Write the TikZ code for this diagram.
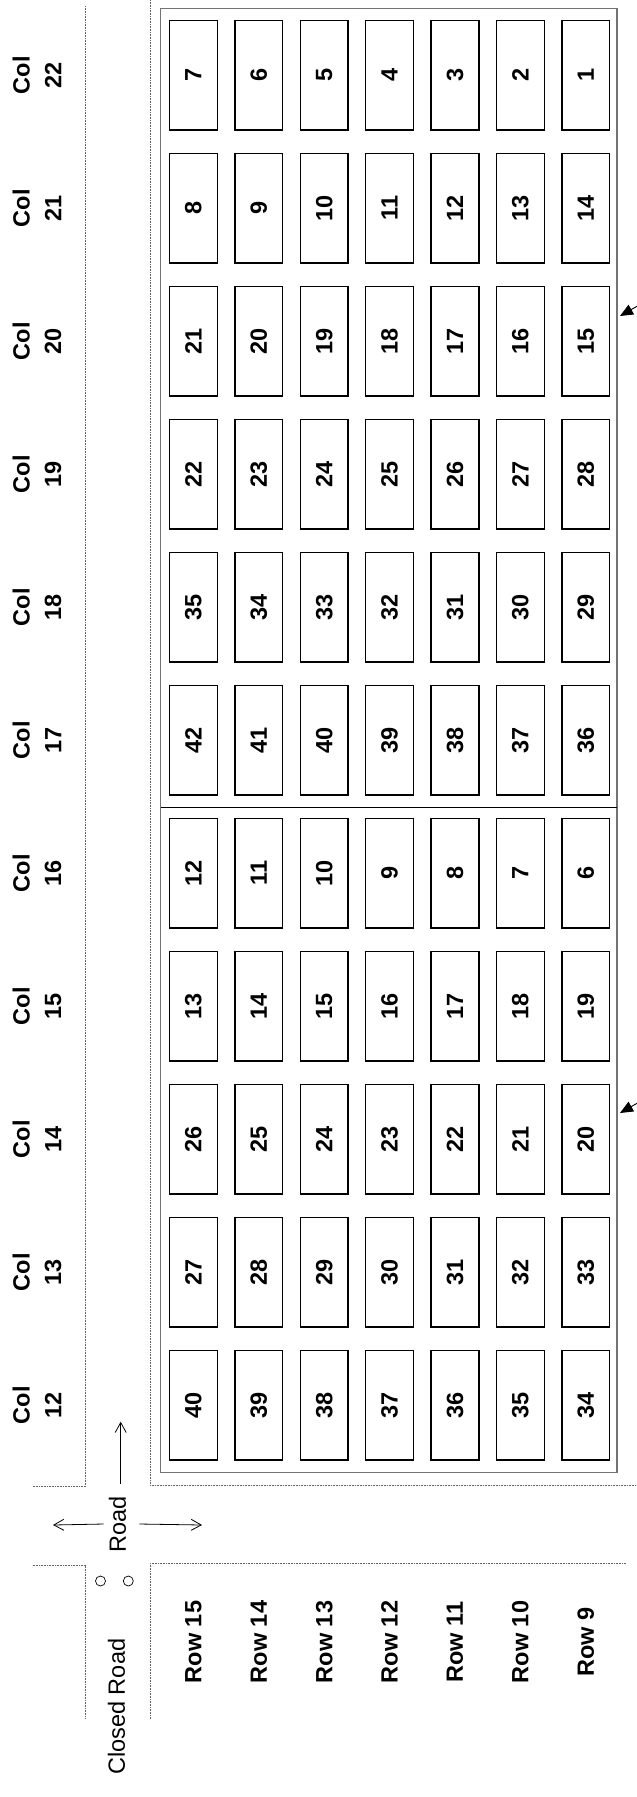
\documentclass[tikz,border=0pt]{standalone}
\usepackage{fontspec}
\setmainfont{Liberation Sans}
\usetikzlibrary{arrows.meta}

\begin{document}
\begin{tikzpicture}[x=1pt, y=-1pt,
  every node/.style={font=\fontsize{23.5}{31.7}\selectfont\bfseries, inner sep=0pt},
  cell/.style={draw, line width=1.5pt, rotate=90, minimum width=109.3pt, minimum height=47.8pt},
  tag/.style={rotate=90, align=center},
  plain/.style={font=\fontsize{23.5}{31.7}\selectfont},
  dots/.style={draw=black!60, line width=0.7pt, dash pattern=on 0.8pt off 0.8pt},
  roadarrow/.style={line width=0.8pt, -{Straight Barb[length=10pt,width=11pt]}},
  pointer/.style={line width=0.9pt, -{Triangle[length=13pt,width=11pt]}}]
\useasboundingbox (0,0) rectangle (637,1797);

% block frame and divider
\draw[draw=black!55, line width=1.2pt] (160.7,8.3) rectangle (617,1472.7);
\draw[line width=0.8pt] (160.7,807.7) -- (617,807.7);

% plots: column, first number, step
\foreach \k/\s/\d in {0/7/-1,1/8/1,2/21/-1,3/22/1,4/35/-1,5/42/-1,6/12/-1,7/13/1,8/26/-1,9/27/1,10/40/-1}{
  \pgfmathtruncatemacro\c{22-\k}
  \node[tag] (col\c) at (37,75.3+133*\k) {Col\\\c};
  \foreach \i in {0,...,6}{
    \pgfmathtruncatemacro\n{\s+\d*\i}
    \node[cell] (b\c-\i) at (193.4+65.4*\i,75.3+133*\k) {\n};
  }
}

% row labels
\foreach \i in {0,...,6}{
  \pgfmathtruncatemacro\r{15-\i}
  \node[tag] (row\r) at (193.4+65.4*\i,1642) {Row \r};
}

% road edges (dotted)
\draw[dots] (85.4,6) -- (85.4,1486.7) -- (32.5,1486.7);
\draw[dots] (150.4,0) -- (150.4,1485) -- (637,1485);
\draw[dots] (32.5,1565.7) -- (85.4,1565.7) -- (85.4,1718.3);
\draw[dots] (626,1563.3) -- (150.4,1563.3) -- (150.4,1718.3);

% road
\node[tag, plain, inner sep=5pt] (road) at (117.5,1524) {Road};
\coordinate (roadN) at (120.7,1421.7);
\coordinate (roadW) at (53,1525);
\coordinate (roadE) at (202,1525);
\draw[roadarrow] (road.north) -- (roadW);
\draw[roadarrow] ([xshift=8pt]road.south) -- (roadE);
\draw[roadarrow] (road.east -| roadN) ++(0,-7) -- (roadN);

% closed road
\draw[line width=0.7pt] (100.5,1581) circle[radius=5pt];
\draw[line width=0.7pt] (128.3,1581) circle[radius=5pt];
\node[tag, plain] (closed) at (116.5,1706.7) {Closed Road};

% pointers
\coordinate (p1tail) at (648,300);
\coordinate (p1) at (620,316);
\coordinate (p2tail) at (648,1097);
\coordinate (p2) at (620,1113);
\draw[pointer] (p1tail) -- (p1);
\draw[pointer] (p2tail) -- (p2);
\end{tikzpicture}
\end{document}
